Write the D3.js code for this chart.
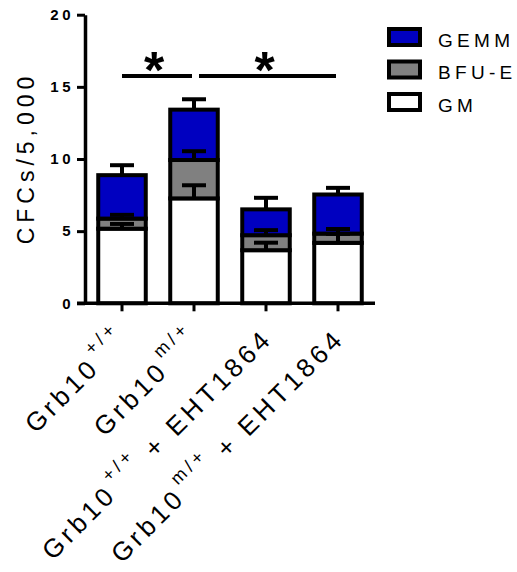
<!DOCTYPE html>
<html>
<head>
<meta charset="utf-8">
<script src="https://cdn.jsdelivr.net/npm/d3@7"></script>
<style>
  body { margin: 0; background: #fff; }
  svg { display: block; }
</style>
</head>
<body>
<div id="chart"></div>
<script>
// groups on the x axis, label split into base / superscript / tail
const categories = ['Grb10+/+', 'Grb10m/+', 'Grb10+/+ + EHT1864', 'Grb10m/+ + EHT1864'];
const labelBase  = ['Grb10', 'Grb10', 'Grb10', 'Grb10'];
const labelSup   = ['+/+', 'm/+', '+/+', 'm/+'];
const labelTail  = ['', '', ' + EHT1864', ' + EHT1864'];

// stacked colony counts (bottom -> top)
const seriesNames  = ['GM', 'BFU-E', 'GEMM'];
const gm    = [5.17, 7.27, 3.68, 4.19];
const bfuE  = [0.70, 2.66, 1.04, 0.64];
const gemm  = [3.01, 3.49, 1.79, 2.71];
const gmErr   = [0.33, 0.91, 0.52, 0.62];
const bfuEErr = [0.26, 0.61, 0.35, 0.32];
const gemmErr = [0.69, 0.72, 0.80, 0.46];

const yTicks = [0, 5, 10, 15, 20];

// significance brackets
const sigFrom  = [0, 1];
const sigTo    = [1, 3];
const sigLevel = [15.75, 15.75];
const sigMark  = ['*', '*'];

const COLORS = { 'GM': '#FFFFFF', 'BFU-E': '#808080', 'GEMM': '#0000C0' };
const FONT = "Arial, 'Liberation Sans', sans-serif";

const W = 517, H = 572;
const svg = d3.select('#chart').append('svg')
  .attr('width', W).attr('height', H)
  .attr('viewBox', `0 0 ${W} ${H}`);

const x = d3.scaleBand().domain(categories).range([86, 374]).paddingInner(0.34).paddingOuter(0.17);
const y = d3.scaleLinear().domain([0, 20]).range([303.3, 14.7]);

const rows = categories.map((c, i) => ({ cat: c, 'GM': gm[i], 'BFU-E': bfuE[i], 'GEMM': gemm[i] }));
const errs = { 'GM': gmErr, 'BFU-E': bfuEErr, 'GEMM': gemmErr };
const stacked = d3.stack().keys(seriesNames)(rows);

// ==============================================
// BARS
// ==============================================
const layers = svg.append('g').selectAll('g')
  .data(stacked).enter().append('g')
  .attr('fill', d => COLORS[d.key]);

layers.selectAll('rect')
  .data(d => d).enter()
  .append('rect')
  .attr('x', d => x(d.data.cat))
  .attr('y', d => y(d[1]))
  .attr('width', x.bandwidth())
  .attr('height', d => y(d[0]) - y(d[1]))
  .attr('stroke', '#000')
  .attr('stroke-width', 4);

// error bars (upper only)
const CAP = 24;
const eb = svg.append('g').attr('stroke', '#000');
stacked.forEach(layer => {
  layer.forEach((d, i) => {
    const cx  = x(d.data.cat) + x.bandwidth() / 2;
    const top = d[1] + errs[layer.key][i];
    eb.append('line')
      .attr('x1', cx).attr('x2', cx)
      .attr('y1', y(d[1])).attr('y2', y(top))
      .attr('stroke-width', 4);
    eb.append('line')
      .attr('x1', cx - CAP / 2).attr('x2', cx + CAP / 2)
      .attr('y1', y(top)).attr('y2', y(top))
      .attr('stroke-width', 4);
  });
});

// ==============================================
// AXES
// ==============================================
const yAxis = svg.append('g')
  .attr('transform', 'translate(85,0)')
  .call(d3.axisLeft(y).tickValues(yTicks).tickSize(8).tickSizeOuter(0).tickPadding(3));
yAxis.select('.domain').attr('stroke-width', 3.5);
yAxis.selectAll('.tick line').attr('stroke-width', 3);
yAxis.selectAll('.tick text')
  .attr('font-family', FONT).attr('font-size', 15).attr('font-weight', 'bold')
  .attr('letter-spacing', 3.5).attr('fill', '#000');

const xAxis = svg.append('g')
  .attr('transform', `translate(0,${y(0)})`)
  .call(d3.axisBottom(x).tickSize(8).tickSizeOuter(0).tickFormat(''));
xAxis.select('.domain').remove();
xAxis.selectAll('.tick line').attr('stroke-width', 3);
xAxis.append('line')
  .attr('x1', 77).attr('x2', 375)
  .attr('stroke', '#000').attr('stroke-width', 3.5);

// rotated category labels
categories.forEach((c, i) => {
  const t = svg.append('text')
    .attr('transform', `translate(${x(c) + x.bandwidth() / 2 + 8},340) rotate(-45)`)
    .attr('text-anchor', 'end')
    .attr('font-family', FONT).attr('font-size', 26)
    .attr('letter-spacing', 4).attr('fill', '#000');
  t.append('tspan').text(labelBase[i]);
  t.append('tspan').attr('font-size', 18).attr('dy', -16).attr('dx', 3).text(labelSup[i]);
  if (labelTail[i]) t.append('tspan').attr('dy', 16).text(labelTail[i]);
});

// y title
svg.append('text')
  .attr('transform', 'translate(34,158) rotate(-90)')
  .attr('text-anchor', 'middle')
  .attr('font-family', FONT).attr('font-size', 23)
  .attr('letter-spacing', 5).attr('fill', '#000')
  .text('CFCs/5,000');

// ==============================================
// SIGNIFICANCE
// ==============================================
sigFrom.forEach((f, i) => {
  const x1 = x(categories[f]) + x.bandwidth() / 2 + (f > 0 ? 5 : 0);
  const x2 = x(categories[sigTo[i]]) + x.bandwidth() / 2 - 2;
  svg.append('line')
    .attr('x1', x1).attr('x2', x2)
    .attr('y1', y(sigLevel[i])).attr('y2', y(sigLevel[i]))
    .attr('stroke', '#000').attr('stroke-width', 4);
  svg.append('text')
    .attr('x', (x1 + x2) / 2 - 3)
    .attr('y', y(sigLevel[i]) + 12)
    .attr('text-anchor', 'middle')
    .attr('font-family', FONT).attr('font-size', 52).attr('font-weight', 'bold')
    .attr('fill', '#000')
    .text(sigMark[i]);
});

// ==============================================
// LEGEND
// ==============================================
const legendOrder = seriesNames.slice().reverse();
const leg = svg.append('g').attr('transform', 'translate(389,29)');
legendOrder.forEach((k, i) => {
  const row = leg.append('g').attr('transform', `translate(0,${i * 32.5})`);
  row.append('rect')
    .attr('width', 31).attr('height', 16)
    .attr('fill', COLORS[k]).attr('stroke', '#000').attr('stroke-width', 4);
  row.append('text')
    .attr('x', 49).attr('y', 17.5)
    .attr('font-family', FONT).attr('font-size', 19)
    .attr('letter-spacing', 4.3).attr('fill', '#000')
    .text(k);
});
</script>
</body>
</html>
